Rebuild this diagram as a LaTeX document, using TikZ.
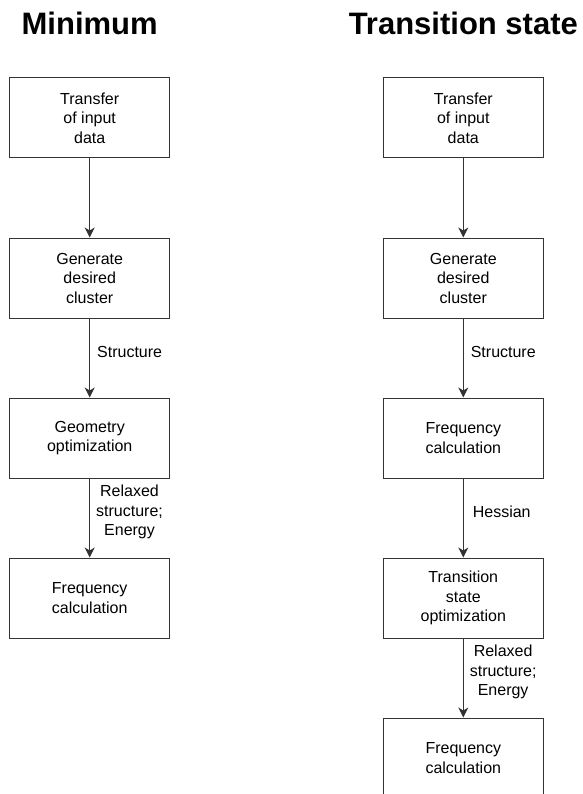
\documentclass[tikz,border=0pt]{standalone}
\usepackage{fontspec}
\setmainfont{Liberation Sans}
\usetikzlibrary{positioning,arrows.meta}
\definecolor{linegray}{HTML}{333333}

\begin{document}
\begin{tikzpicture}[x=1pt, y=-1pt, node distance=79pt,
    block/.style={draw=linegray, line width=1pt, minimum width=160pt, minimum height=80pt,
      align=center, font=\fontsize{16pt}{19.5pt}\selectfont},
    heading/.style={anchor=base, font=\fontsize{31pt}{37pt}\selectfont\bfseries},
    flow/.style={draw=linegray, line width=1pt, -{Stealth[length=10pt, width=10pt, inset=3pt]}},
    tag/.style={right=7pt, yshift=6pt, inner sep=0pt, align=center,
      font=\fontsize{16pt}{19.5pt}\selectfont}]
  \useasboundingbox (0,0) rectangle (582,794);
  % minimum
  \node[heading] (tmin) at (89.7,35) {Minimum};
  \node[block] (m1) at (89.7,118) {Transfer\\of input\\data};
  \node[block, below=of m1] (m2) {Generate\\desired\\cluster};
  \node[block, below=of m2] (m3) {Geometry\\optimization};
  \node[block, below=of m3] (m4) {Frequency\\calculation};
  \draw[flow] (m1) -- (m2);
  \draw[flow] (m2) -- node[tag] {Structure} (m3);
  \draw[flow] (m3) -- node[tag, right=6pt] {Relaxed\\structure;\\Energy} (m4);
  % transition state
  \node[heading] (tts) at (463.3,35) {Transition state};
  \node[block] (t1) at (463.3,118) {Transfer\\of input\\data};
  \node[block, below=of t1] (t2) {Generate\\desired\\cluster};
  \node[block, below=of t2] (t3) {Frequency\\calculation};
  \node[block, below=of t3] (t4) {Transition\\state\\optimization};
  \node[block, below=of t4] (t5) {Frequency\\calculation};
  \draw[flow] (t1) -- (t2);
  \draw[flow] (t2) -- node[tag] {Structure} (t3);
  \draw[flow] (t3) -- node[tag, right=9pt] {Hessian} (t4);
  \draw[flow] (t4) -- node[tag, right=6pt] {Relaxed\\structure;\\Energy} (t5);
\end{tikzpicture}
\end{document}
